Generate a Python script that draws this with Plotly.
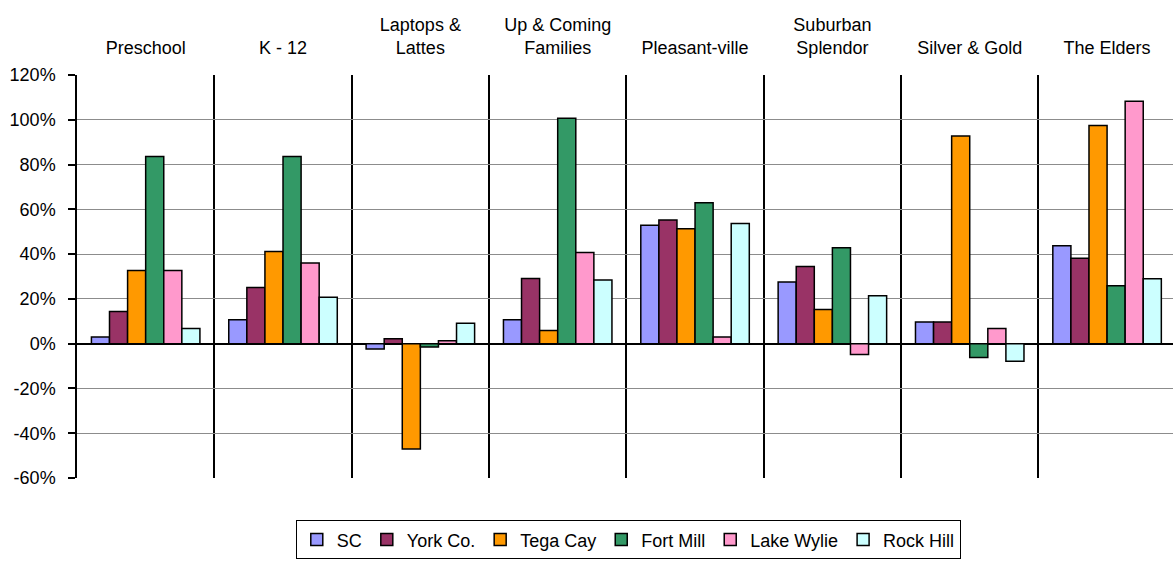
import plotly.graph_objects as go

# Segment categories (two-line labels use <br>)
segments = ["Preschool", "K - 12", "Laptops &<br>Lattes", "Up & Coming<br>Families",
            "Pleasant-ville", "Suburban<br>Splendor", "Silver & Gold", "The Elders"]

# Growth by area, percent
sc         = [3.0, 10.7, -2.4, 10.7, 52.9, 27.5, 9.7, 43.7]
york_co    = [14.4, 25.1, 2.2, 29.1, 55.2, 34.5, 9.7, 38.2]
tega_cay   = [32.7, 41.2, -47.0, 5.9, 51.3, 15.3, 92.8, 97.4]
fort_mill  = [83.6, 83.6, -1.5, 100.7, 62.9, 42.8, -6.2, 25.9]
lake_wylie = [32.7, 36.0, 1.3, 40.7, 3.0, -4.8, 6.8, 108.3]
rock_hill  = [6.8, 20.7, 9.1, 28.4, 53.7, 21.4, -7.9, 29.0]

series = [
    ("SC", sc, "#9999FF"),
    ("York Co.", york_co, "#993366"),
    ("Tega Cay", tega_cay, "#FF9900"),
    ("Fort Mill", fort_mill, "#339966"),
    ("Lake Wylie", lake_wylie, "#FF99CC"),
    ("Rock Hill", rock_hill, "#CCFFFF"),
]

y_ticks = [-60, -40, -20, 0, 20, 40, 60, 80, 100, 120]
y_ticktext = [f"{v}%" for v in y_ticks]

font_family = "Liberation Sans, Arial, sans-serif"
font_size = 18
positions = list(range(len(segments)))

fig = go.Figure()
for name, vals, color in series:
    fig.add_trace(go.Bar(
        x=positions, y=vals, name=name,
        marker=dict(color=color, line=dict(color="black", width=1.5)),
    ))

fig.update_layout(
    width=1173, height=567,
    margin=dict(l=77, r=0, t=75, b=89),
    paper_bgcolor="white", plot_bgcolor="white",
    barmode="group", bargap=0.21, bargroupgap=0,
    font=dict(family=font_family, size=font_size, color="black"),
    showlegend=True,
    legend=dict(
        orientation="h", x=0.503, xanchor="center", y=-0.105, yanchor="top",
        bordercolor="black", borderwidth=1, bgcolor="white",
        font=dict(size=font_size), itemwidth=30, traceorder="normal",
    ),
    xaxis=dict(
        range=[-0.5, 7.48], side="top",
        tickmode="array", tickvals=positions, ticktext=segments,
        showgrid=False, zeroline=False, showline=False, ticks="",
        tickfont=dict(size=font_size), ticklabelstandoff=16,
        minor=dict(tickmode="array", tickvals=[i - 0.5 for i in range(9)],
                   showgrid=True, gridcolor="black", gridwidth=1.5, ticks=""),
    ),
    yaxis=dict(
        range=[-60, 120], tickmode="array", tickvals=y_ticks, ticktext=y_ticktext,
        showgrid=True, gridcolor="#8c8c8c", gridwidth=1.2,
        zeroline=True, zerolinecolor="black", zerolinewidth=1.5,
        showline=True, linecolor="black", linewidth=1.5,
        ticks="outside", ticklen=7, tickcolor="black", tickwidth=1.5,
        tickfont=dict(size=font_size), ticklabelstandoff=9,
    ),
)

fig.write_html("out.html")
